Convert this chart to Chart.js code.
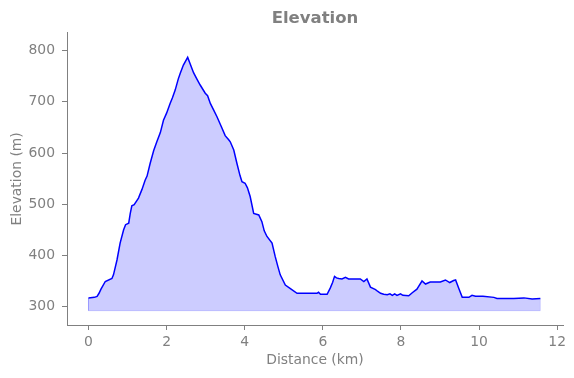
<!DOCTYPE html>
<html>
<head>
<meta charset="utf-8">
<script src="https://cdn.jsdelivr.net/npm/chart.js@4.4.0/dist/chart.umd.min.js"></script>
<style>
  html, body { margin: 0; padding: 0; background: #fff; }
  #chart { display: block; }
</style>
</head>
<body>
<canvas id="chart" width="574" height="378"></canvas>
<script>
// Profil d'altitude
const distanceKm = [
  0.00, 0.15, 0.22, 0.27, 0.32, 0.43, 0.60, 0.64, 0.73, 0.81, 0.90, 0.95, 1.03, 1.07, 1.11, 1.17,
  1.28, 1.37, 1.45, 1.50, 1.58, 1.67, 1.75, 1.84, 1.92, 2.00, 2.09, 2.15, 2.22, 2.30, 2.35, 2.43,
  2.54, 2.60, 2.69, 2.78, 2.86, 2.99, 3.05, 3.12, 3.20, 3.29, 3.40, 3.50, 3.59, 3.63, 3.72, 3.80,
  3.88, 3.93, 4.01, 4.07, 4.14, 4.23, 4.36, 4.44, 4.50, 4.57, 4.70, 4.78, 4.85, 4.91, 5.04, 5.17,
  5.34, 5.60, 5.85, 5.89, 5.94, 6.11, 6.19, 6.25, 6.30, 6.35, 6.41, 6.49, 6.58, 6.66, 6.80, 6.96,
  7.05, 7.13, 7.22, 7.35, 7.40, 7.48, 7.56, 7.65, 7.72, 7.78, 7.84, 7.90, 7.99, 8.05, 8.20, 8.29,
  8.41, 8.45, 8.54, 8.63, 8.75, 8.90, 9.01, 9.14, 9.25, 9.35, 9.40, 9.48, 9.57, 9.74, 9.82, 9.91,
  10.10, 10.38, 10.46, 10.89, 11.15, 11.36, 11.57
];
const elevationM = [
  317, 318, 320, 326, 334, 349, 355, 362, 391, 424, 450, 460, 463, 482, 497, 499,
  512, 529, 547, 555, 580, 605, 622, 640, 664, 678, 697, 708, 723, 745, 756, 772,
  787, 775, 757, 744, 733, 717, 712, 697, 685, 671, 652, 634, 626, 622, 606, 580,
  556, 544, 541, 532, 515, 482, 479, 466, 448, 437, 424, 398, 378, 362, 342, 335,
  326, 326, 326, 328, 324, 324, 336, 347, 359, 356, 355, 354, 357, 354, 354, 354,
  349, 354, 338, 333, 330, 326, 324, 323, 325, 322, 325, 322, 325, 322, 321, 327,
  334, 339, 350, 344, 348, 348, 348, 352, 347, 351, 352, 336, 318, 318, 322, 320,
  320, 318, 316, 316, 317, 315, 316
];
const fillBase = 292;          // bas de la zone remplie
const xTicks = [0, 2, 4, 6, 8, 10, 12];
const yTicks = [300, 400, 500, 600, 700, 800];

const grey = '#808080';
const fontFamily = "'DejaVu Sans', sans-serif";

const points = distanceKm.map((d, i) => ({ x: d, y: elevationM[i] }));
// contour de la zone remplie (bords gauche, bas, droit)
const last = distanceKm.length - 1;
const fillEdge = [
  { x: distanceKm[0], y: elevationM[0] },
  { x: distanceKm[0], y: fillBase },
  { x: distanceKm[last], y: fillBase },
  { x: distanceKm[last], y: elevationM[last] }
];

new Chart(document.getElementById('chart'), {
  type: 'line',
  data: {
    datasets: [
      {
        data: fillEdge,
        borderColor: 'rgba(0, 0, 255, 0.15)',
        borderWidth: 1,
        pointRadius: 0,
        fill: false
      },
      {
        data: points,
        borderColor: '#0000ff',
        borderWidth: 1.5,
        backgroundColor: 'rgba(0, 0, 255, 0.2)',
        pointRadius: 0,
        tension: 0,
        fill: { value: fillBase }
      }
    ]
  },
  options: {
    responsive: false,
    animation: false,
    layout: { padding: { left: 0, right: 11, top: 0, bottom: 0 } },
    plugins: {
      legend: { display: false },
      tooltip: { enabled: false },
      title: {
        display: true,
        fullSize: false,
        text: 'Elevation',
        color: grey,
        font: { family: fontFamily, size: 16.5, weight: 'bold' },
        padding: { top: 9, bottom: 4 }
      }
    },
    scales: {
      x: {
        type: 'linear',
        min: -0.55,
        max: 12.15,
        afterBuildTicks: (scale) => { scale.ticks = xTicks.map(v => ({ value: v })); },
        afterFit: (scale) => { scale.height = 53; },
        grid: { drawOnChartArea: false, drawTicks: true, tickLength: 5, color: grey },
        border: { color: grey, width: 1 },
        ticks: { color: grey, padding: 4, font: { family: fontFamily, size: 13.9 } },
        title: {
          display: true,
          text: 'Distance (km)',
          color: grey,
          font: { family: fontFamily, size: 13.9 },
          padding: { top: 0, bottom: 9 }
        }
      },
      y: {
        min: 264,
        max: 835,
        afterBuildTicks: (scale) => { scale.ticks = yTicks.map(v => ({ value: v })); },
        afterFit: (scale) => { scale.width = 67; },
        grid: { drawOnChartArea: false, drawTicks: true, tickLength: 5, color: grey },
        border: { color: grey, width: 1 },
        ticks: { color: grey, padding: 7, font: { family: fontFamily, size: 13.9 } },
        title: {
          display: true,
          text: 'Elevation (m)',
          color: grey,
          font: { family: fontFamily, size: 13.9 },
          padding: { top: 9, bottom: 0 }
        }
      }
    }
  }
});
</script>
</body>
</html>
